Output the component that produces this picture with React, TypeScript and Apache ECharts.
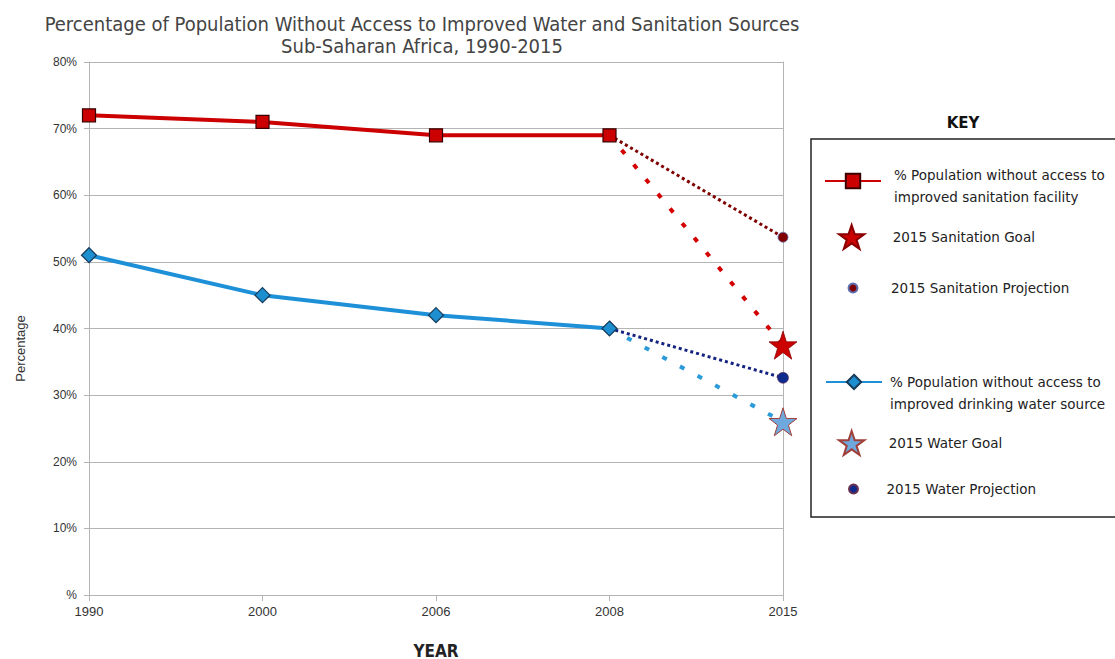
import React, { useEffect, useRef } from "react";
import * as echarts from "echarts";

const years = ["1990", "2000", "2006", "2008", "2015"];
const sanitation = [72, 71, 69, 69];
const water = [51, 45, 42, 40];
const sanitationGoal = 37.5;
const sanitationProjection = 53.7;
const waterGoal = 26;
const waterProjection = 32.6;
const yTicks = [0, 10, 20, 30, 40, 50, 60, 70, 80];

const nameSanitation = "% Population without access to improved sanitation facility";
const nameSanGoal = "2015 Sanitation Goal";
const nameSanProj = "2015 Sanitation Projection";
const nameWater = "% Population without access to improved drinking water source";
const nameWaterGoal = "2015 Water Goal";
const nameWaterProj = "2015 Water Projection";

const STAR =
  "path://M50,0 L61.8,35.5 L99,35.5 L69,57.5 L80.5,93 L50,71 L19.5,93 L31,57.5 L1,35.5 L38.2,35.5 Z";

const FONT = "'Liberation Sans', Arial, sans-serif";
const KEYFONT = "'DejaVu Sans', Verdana, sans-serif";

function extension(base: number[], end: number): (number | null)[] {
  const last = base.length - 1;
  return years.map((_, i) => (i === last ? base[last] : i === years.length - 1 ? end : null));
}

function endPoint(v: number): (number | null)[] {
  return years.map((_, i) => (i === years.length - 1 ? v : null));
}

function legendItem(
  name: string,
  left: number,
  top: number,
  itemHeight: number,
  blank: number,
  padLeft: number
) {
  return {
    data: [name],
    left,
    top,
    orient: "vertical",
    padding: 0,
    itemWidth: 56,
    itemHeight,
    selectedMode: false,
    formatter: (n: string) => {
      const t = n.indexOf(" to ") >= 0 ? n.replace(" to ", " to\n") : n;
      return blank > 0 ? "{s| }\n" + t : t;
    },
    textStyle: {
      fontFamily: KEYFONT,
      fontSize: 13.5,
      color: "#222",
      lineHeight: 22,
      padding: [0, 0, 0, padLeft],
      rich: { s: { lineHeight: blank, fontSize: 2 } },
    },
  };
}

export default function App() {
  const ref = useRef<HTMLDivElement>(null);
  useEffect(() => {
    if (!ref.current) return;
    const chart = echarts.init(ref.current, undefined, { renderer: "svg" });
    const axisGray = "#b4b4b4";
    chart.setOption({
      animation: false,
      backgroundColor: "#ffffff",
      title: {
        text: "Percentage of Population Without Access to Improved Water and Sanitation Sources\nSub-Saharan Africa, 1990-2015",
        left: 417,
        top: 8,
        textAlign: "center",
        textStyle: {
          fontFamily: "'DejaVu Sans Condensed', 'DejaVu Sans', sans-serif",
          fontWeight: "normal",
          fontSize: 20,
          color: "#444",
          lineHeight: 22,
        },
      },
      grid: {
        left: 89,
        right: 332,
        top: 62,
        bottom: 64,
        containLabel: false,
        outerBoundsMode: "none",
      },
      xAxis: {
        type: "category",
        data: years,
        boundaryGap: false,
        name: "YEAR",
        nameLocation: "middle",
        nameGap: 47,
        nameTextStyle: {
          fontFamily: "'DejaVu Sans Condensed', 'DejaVu Sans', sans-serif",
          fontWeight: "bold",
          fontSize: 17,
          color: "#222",
        },
        axisLine: { lineStyle: { color: axisGray, width: 1 } },
        axisTick: { show: true, length: 6, lineStyle: { color: axisGray } },
        axisLabel: { fontFamily: FONT, fontSize: 13, color: "#333", margin: 10 },
        splitLine: { show: false },
      },
      yAxis: [
        {
          type: "value",
          min: yTicks[0],
          max: yTicks[yTicks.length - 1],
          interval: 10,
          name: "Percentage",
          nameLocation: "middle",
          nameGap: 62,
          nameTextStyle: { fontFamily: FONT, fontSize: 13, color: "#333", padding: [0, 40, 0, 0] },
          axisLine: { show: true, lineStyle: { color: axisGray, width: 1 } },
          axisTick: { show: true, length: 5, lineStyle: { color: axisGray } },
          axisLabel: {
            fontFamily: FONT,
            fontSize: 12,
            color: "#333",
            margin: 12,
            formatter: (v: number) => (v === 0 ? "%" : v + "%"),
          },
          splitLine: { show: true, lineStyle: { color: axisGray, width: 1 } },
        },
        {
          type: "value",
          position: "right",
          min: yTicks[0],
          max: yTicks[yTicks.length - 1],
          interval: 10,
          axisLine: { show: true, lineStyle: { color: axisGray, width: 1 } },
          axisTick: { show: false },
          axisLabel: { show: false },
          splitLine: { show: false },
        },
      ],
      legend: [
        legendItem(nameSanitation, 824, 154, 18, 10, 8),
        legendItem(nameSanGoal, 838, 224, 24, 0, 8),
        legendItem(nameSanProj, 847.5, 277, 9, 0, 5),
        legendItem(nameWater, 825, 349, 18, 22, 3),
        legendItem(nameWaterGoal, 838, 430, 24, 0, 4),
        legendItem(nameWaterProj, 848, 478, 9, 0, 0),
      ],
      graphic: [
        {
          type: "rect",
          shape: { x: 811, y: 139, width: 330, height: 378 },
          style: { fill: "none", stroke: "#222", lineWidth: 1.5 },
          silent: true,
        },
        {
          type: "text",
          x: 963,
          y: 123,
          style: {
            text: "KEY",
            font: "bold 15px 'DejaVu Sans', Verdana, sans-serif",
            fill: "#111",
            align: "center",
            verticalAlign: "middle",
          },
        },
      ],
      series: [
        {
          name: "san-proj-line",
          type: "line",
          data: extension(sanitation, sanitationProjection),
          symbol: "none",
          lineStyle: { color: "#7f0000", width: 3, type: [3, 3] },
          z: 2,
        },
        {
          name: "san-goal-line",
          type: "line",
          data: extension(sanitation, sanitationGoal),
          symbol: "none",
          lineStyle: { color: "#d40000", width: 4, type: [5, 14] },
          z: 2,
        },
        {
          name: "water-proj-line",
          type: "line",
          data: extension(water, waterProjection),
          symbol: "none",
          lineStyle: { color: "#14237f", width: 3, type: [3, 3] },
          z: 2,
        },
        {
          name: "water-goal-line",
          type: "line",
          data: extension(water, waterGoal),
          symbol: "none",
          lineStyle: { color: "#2a9ad8", width: 4, type: [5, 15] },
          z: 2,
        },
        {
          name: nameSanitation,
          type: "line",
          data: sanitation,
          symbol: "rect",
          symbolSize: 13,
          itemStyle: { color: "#cc0000", borderColor: "#3a0000", borderWidth: 1.2 },
          lineStyle: { color: "#cc0000", width: 4 },
          z: 4,
        },
        {
          name: nameWater,
          type: "line",
          data: water,
          symbol: "diamond",
          symbolSize: 15,
          itemStyle: { color: "#1d8fd0", borderColor: "#163a58", borderWidth: 1.2 },
          lineStyle: { color: "#1e90d8", width: 4 },
          z: 4,
        },
        {
          name: nameSanGoal,
          type: "scatter",
          data: endPoint(sanitationGoal),
          symbol: STAR,
          symbolSize: 28,
          itemStyle: { color: "#cc0000", borderColor: "#8a0000", borderWidth: 0.8, opacity: 1 },
          z: 5,
        },
        {
          name: nameSanProj,
          type: "scatter",
          data: endPoint(sanitationProjection),
          symbol: "circle",
          symbolSize: 10,
          itemStyle: { color: "#800000", borderColor: "#6070b0", borderWidth: 0.8, opacity: 1 },
          z: 5,
        },
        {
          name: nameWaterGoal,
          type: "scatter",
          data: endPoint(waterGoal),
          symbol: STAR,
          symbolSize: 28,
          itemStyle: { color: "#6fa8dc", borderColor: "#a0403a", borderWidth: 1, opacity: 1 },
          z: 5,
        },
        {
          name: nameWaterProj,
          type: "scatter",
          data: endPoint(waterProjection),
          symbol: "circle",
          symbolSize: 11,
          itemStyle: { color: "#0d2a8c", borderColor: "#6a3050", borderWidth: 0.6, opacity: 1 },
          z: 5,
        },
      ],
    });
    return () => chart.dispose();
  }, []);
  return (
    <div
      ref={ref}
      style={{ position: "fixed", left: 0, top: 0, width: 1115, height: 659, background: "#fff" }}
    />
  );
}
